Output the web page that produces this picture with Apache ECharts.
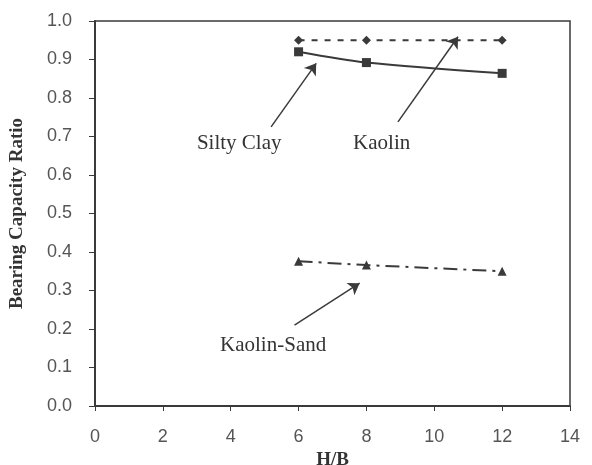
<!DOCTYPE html>
<html><head><meta charset="utf-8">
<script src="https://cdn.jsdelivr.net/npm/echarts@6/dist/echarts.min.js"></script>
<style>html,body{margin:0;padding:0;background:#fff}#c{width:592px;height:465px}</style>
</head><body><div id="c"></div>
<script>
const hb = [6, 8, 12];
const kaolin = [0.95, 0.95, 0.95];
const siltyClay = [0.92, 0.892, 0.864];
const kaolinSand = [0.376, 0.366, 0.35];
const xTicks = [0, 2, 4, 6, 8, 10, 12, 14];
const yTicks = [0, 0.1, 0.2, 0.3, 0.4, 0.5, 0.6, 0.7, 0.8, 0.9, 1.0];
// annotations: [label, labelX, labelY, arrowFromX, arrowFromY, arrowToX, arrowToY]
const notes = [
  ['Silty Clay', 4.25, 0.683, 5.19, 0.725, 6.52, 0.89],
  ['Kaolin', 8.45, 0.683, 8.93, 0.738, 10.7, 0.959],
  ['Kaolin-Sand', 5.25, 0.158, 5.88, 0.21, 7.8, 0.319]
];
const ink = '#3a3a3a';
const pair = (xs, ys) => xs.map((x, i) => [x, ys[i]]);
const chart = echarts.init(document.getElementById('c'));
chart.setOption({
  animation: false,
  grid: {left: 95, right: 22, top: 21, bottom: 59, show: true, borderColor: ink, borderWidth: 1.5,
    outerBoundsMode: 'none', containLabel: false},
  xAxis: {
    type: 'value', min: 0, max: 14, interval: 2,
    name: 'H/B', nameLocation: 'middle', nameGap: 45,
    nameTextStyle: {fontFamily: 'Liberation Serif', fontWeight: 'bold', fontSize: 19, color: '#333'},
    axisLine: {lineStyle: {color: ink, width: 2}},
    axisTick: {show: true, inside: false, length: 5, lineStyle: {color: ink}},
    axisLabel: {fontFamily: 'Liberation Sans', fontSize: 18, color: '#555', margin: 22,
      formatter: v => xTicks.includes(v) ? String(v) : ''},
    splitLine: {show: false}
  },
  yAxis: {
    type: 'value', min: 0, max: 1, interval: 0.1,
    name: 'Bearing Capacity Ratio', nameLocation: 'middle', nameGap: 68,
    nameTextStyle: {fontFamily: 'Liberation Serif', fontWeight: 'bold', fontSize: 19, color: '#333'},
    axisLine: {lineStyle: {color: ink, width: 2}},
    axisTick: {show: true, inside: false, length: 6, lineStyle: {color: ink}},
    axisLabel: {fontFamily: 'Liberation Sans', fontSize: 18, color: '#555', margin: 23,
      formatter: v => { const t = yTicks.find(a => Math.abs(a - v) < 1e-6); return t === undefined ? '' : t.toFixed(1); }},
    splitLine: {show: false}
  },
  series: [
    {
      name: 'Kaolin', type: 'line', data: pair(hb, kaolin),
      symbol: 'diamond', symbolSize: 9, itemStyle: {color: ink},
      lineStyle: {color: ink, width: 2, type: [6, 7]},
      markLine: {
        silent: true, symbol: ['none', 'arrow'], symbolSize: 11,
        lineStyle: {color: ink, width: 1.5, type: 'solid'}, label: {show: false},
        data: notes.map(n => [{coord: [n[3], n[4]]}, {coord: [n[5], n[6]]}])
      },
      markPoint: {
        silent: true, symbol: 'circle', symbolSize: 1, itemStyle: {color: 'rgba(0,0,0,0)'},
        label: {show: true, position: 'inside', fontFamily: 'Liberation Serif', fontSize: 21, color: '#333',
          formatter: p => p.name},
        data: notes.map(n => ({name: n[0], coord: [n[1], n[2]]}))
      }
    },
    {
      name: 'Silty Clay', type: 'line', data: pair(hb, siltyClay), smooth: 0.3,
      symbol: 'rect', symbolSize: 9, itemStyle: {color: ink},
      lineStyle: {color: ink, width: 2}
    },
    {
      name: 'Kaolin-Sand', type: 'line', data: pair(hb, kaolinSand),
      symbol: 'triangle', symbolSize: 9, itemStyle: {color: ink},
      lineStyle: {color: ink, width: 2, type: [14, 6, 3, 6]}
    }
  ]
});
</script></body></html>
